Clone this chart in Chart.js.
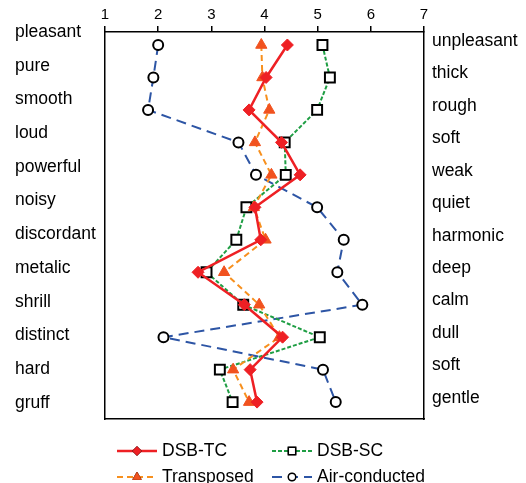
<!DOCTYPE html>
<html>
<head>
<meta charset="utf-8">
<script src="https://cdn.jsdelivr.net/npm/chart.js@4/dist/chart.umd.min.js"></script>
<style>
  body { margin: 0; background: #fff; }
  canvas { display: block; }
</style>
</head>
<body>
<canvas id="profileChart" width="526" height="483"></canvas>
<script>
// adjective pairs, top to bottom
const leftLabels = ['pleasant', 'pure', 'smooth', 'loud', 'powerful', 'noisy',
    'discordant', 'metalic', 'shrill', 'distinct', 'hard', 'gruff'];
const rightLabels = ['unpleasant', 'thick', 'rough', 'soft', 'weak', 'quiet',
    'harmonic', 'deep', 'calm', 'dull', 'soft', 'gentle'];
const xTicks = [1, 2, 3, 4, 5, 6, 7];

// mean ratings
const dsbTC = [4.43, 4.03, 3.71, 4.32, 4.67, 3.82, 3.93, 2.75, 3.62, 4.34, 3.73, 3.86];
const transposed = [3.94, 3.96, 4.09, 3.82, 4.13, 3.80, 4.02, 3.24, 3.90, 4.28, 3.41, 3.71];
const dsbSC = [5.09, 5.23, 4.99, 4.38, 4.40, 3.66, 3.47, 2.91, 3.60, 5.04, 3.16, 3.40];
const airConducted = [2.00, 1.91, 1.81, 3.51, 3.84, 4.99, 5.49, 5.37, 5.84, 2.10, 5.10, 5.34];

const FONT = 'Arial, "Liberation Sans", sans-serif';

function toPoints(values) {
    return values.map((v, i) => ({ x: v, y: i + 1 }));
}

const datasets = [
    {
        label: 'DSB-TC',
        data: toPoints(dsbTC),
        borderColor: '#ee2024',
        borderWidth: 2.5,
        pointStyle: 'rectRot',
        pointRadius: 6,
        pointBackgroundColor: '#ee2024',
        pointBorderColor: '#ee2024',
        pointBorderWidth: 1,
        order: 1
    },
    {
        label: 'DSB-SC',
        data: toPoints(dsbSC),
        borderColor: '#1f9e44',
        borderWidth: 2,
        borderDash: [4, 2],
        pointStyle: 'rect',
        pointRadius: 7,
        pointBackgroundColor: '#ffffff',
        pointBorderColor: '#000000',
        pointBorderWidth: 2,
        order: 3
    },
    {
        label: 'Transposed',
        data: toPoints(transposed),
        borderColor: '#f7901e',
        borderWidth: 2,
        borderDash: [6, 4],
        pointStyle: 'triangle',
        pointRadius: 6.5,
        pointBackgroundColor: '#f1521f',
        pointBorderColor: '#f1521f',
        pointBorderWidth: 1,
        order: 2
    },
    {
        label: 'Air-conducted',
        data: toPoints(airConducted),
        borderColor: '#2d55a5',
        borderWidth: 2,
        borderDash: [10, 6],
        pointStyle: 'circle',
        pointRadius: 5,
        pointBackgroundColor: '#ffffff',
        pointBorderColor: '#000000',
        pointBorderWidth: 2,
        order: 4
    }
];

// 2 x 2 legend with line + marker samples under the plot
const legendGrid = {
    id: 'legendGrid',
    afterDraw(chart) {
        const ctx = chart.ctx;
        const cols = [117, 272];
        const rows = [451, 477];
        const slots = [[0, 0], [1, 0], [0, 1], [1, 1]];
        ctx.save();
        ctx.font = '17.5px ' + FONT;
        ctx.textBaseline = 'middle';
        ctx.fillStyle = '#000';
        chart.data.datasets.forEach((ds, i) => {
            const x = cols[slots[i][0]];
            const y = rows[slots[i][1]];
            ctx.save();
            ctx.strokeStyle = ds.borderColor;
            ctx.lineWidth = ds.borderWidth;
            ctx.setLineDash(ds.borderDash || []);
            ctx.beginPath();
            ctx.moveTo(x, y);
            ctx.lineTo(x + 40, y);
            ctx.stroke();
            ctx.restore();
            Chart.helpers.drawPoint(ctx, {
                pointStyle: ds.pointStyle,
                radius: ds.pointRadius * 0.75,
                borderWidth: ds.pointBorderWidth * 0.75,
                rotation: 0
            }, x + 20, y);
            ctx.save();
            ctx.fillStyle = ds.pointBackgroundColor;
            ctx.strokeStyle = ds.pointBorderColor;
            ctx.lineWidth = ds.pointBorderWidth * 0.75;
            ctx.setLineDash([]);
            ctx.beginPath();
            Chart.helpers.drawPoint(ctx, {
                pointStyle: ds.pointStyle,
                radius: ds.pointRadius * 0.75,
                borderWidth: ds.pointBorderWidth * 0.75,
                rotation: 0
            }, x + 20, y);
            ctx.restore();
            ctx.fillText(ds.label, x + 45, y);
        });
        ctx.restore();
    }
};

function createChart() {
    const ctx = document.getElementById('profileChart').getContext('2d');
    new Chart(ctx, {
        type: 'line',
        data: { datasets: datasets },
        options: {
            responsive: false,
            animation: false,
            layout: { padding: { left: 15, right: 0, top: 0, bottom: 64 } },
            elements: { line: { tension: 0, fill: false } },
            scales: {
                x: {
                    type: 'linear',
                    position: 'top',
                    min: 1,
                    max: 7,
                    afterBuildTicks: axis => { axis.ticks = xTicks.map(v => ({ value: v })); },
                    afterFit: axis => { axis.height = 32; },
                    ticks: { color: '#000', padding: 2, font: { size: 15, family: FONT } },
                    grid: { drawOnChartArea: false, tickLength: 6, color: '#000', lineWidth: 1.5 },
                    border: { color: '#000', width: 1.5 }
                },
                xBottom: {
                    type: 'linear',
                    position: 'bottom',
                    min: 1,
                    max: 7,
                    afterFit: axis => { axis.height = 0; },
                    ticks: { display: false },
                    grid: { display: false },
                    border: { display: true, color: '#000', width: 1.5 }
                },
                y: {
                    type: 'linear',
                    reverse: true,
                    min: 0.6,
                    max: 12.52,
                    display: false
                },
                yLeft: {
                    type: 'linear',
                    position: 'left',
                    reverse: true,
                    min: 1,
                    max: 12.48,
                    afterBuildTicks: axis => { axis.ticks = leftLabels.map((_, i) => ({ value: i + 1 })); },
                    afterFit: axis => { axis.width = 90; },
                    ticks: {
                        color: '#000',
                        crossAlign: 'far',
                        autoSkip: false,
                        font: { size: 17.5, family: FONT },
                        callback: v => leftLabels[Math.round(v) - 1]
                    },
                    grid: { display: false, drawTicks: false },
                    border: { display: true, color: '#000', width: 1.5 }
                },
                yRight: {
                    type: 'linear',
                    position: 'right',
                    reverse: true,
                    min: 0.72,
                    max: 12.65,
                    afterBuildTicks: axis => { axis.ticks = rightLabels.map((_, i) => ({ value: i + 1 })); },
                    afterFit: axis => { axis.width = 102; },
                    ticks: {
                        color: '#000',
                        padding: 8,
                        autoSkip: false,
                        font: { size: 17.5, family: FONT },
                        callback: v => rightLabels[Math.round(v) - 1]
                    },
                    grid: { display: false, drawTicks: false },
                    border: { display: true, color: '#000', width: 1.5 }
                }
            },
            plugins: {
                legend: { display: false },
                tooltip: { enabled: false }
            }
        },
        plugins: [legendGrid]
    });
}
createChart()
</script>
</body>
</html>
